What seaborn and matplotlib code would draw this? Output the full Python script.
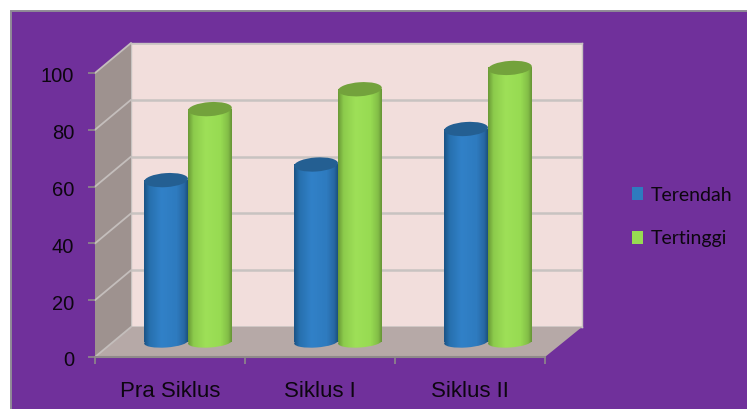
import matplotlib
matplotlib.use('Agg')
import matplotlib.pyplot as plt
import numpy as np
import pandas as pd
import seaborn as sns
from matplotlib.colors import LinearSegmentedColormap
from matplotlib.lines import Line2D
from matplotlib.patches import Ellipse, Polygon, Rectangle
from matplotlib.transforms import IdentityTransform, ScaledTranslation

categories = ['Pra Siklus', 'Siklus I', 'Siklus II']
terendah = [57, 62.5, 75]
tertinggi = [82, 89, 96.5]
y_ticks = [0, 20, 40, 60, 80, 100]

W, H = 747, 409
DEPTH_X, DEPTH_Y = 36, 30

sns.set_theme(style='white')
plt.rcParams['font.family'] = ['Liberation Sans', 'DejaVu Sans']


def box(left, top, right, bottom):
    # axes rectangle from pixel edges, top left origin
    return [left / W, 1 - bottom / H, (right - left) / W, (bottom - top) / H]


def pts(*xy):
    return [(x, H - y) for x, y in xy]


df = pd.DataFrame({
    'siklus': categories * 2,
    'nilai': terendah + tertinggi,
    'seri': ['Terendah'] * 3 + ['Tertinggi'] * 3,
})

fig = plt.figure(figsize=(W / 100, H / 100), dpi=100, facecolor='white')

# purple chart area with thin grey frame
fig.add_artist(Rectangle((11, -3), W, H - 11 + 3, transform=IdentityTransform(),
                         facecolor='#70309B', edgecolor='#8f8a96', lw=1.4, zorder=0))

L, R, T, B = 95, 545, 73, 357
ax_back = fig.add_axes(box(L + DEPTH_X, T - DEPTH_Y, R + DEPTH_X + 1, B - DEPTH_Y), zorder=1)
ax = fig.add_axes(box(L, T, R, B), zorder=2)
ax_bars = fig.add_axes(box(L + DEPTH_X / 2, T - DEPTH_Y / 2, R + DEPTH_X / 2, B - DEPTH_Y / 2), zorder=3)

# back wall
ax_back.set_facecolor('#F2DEDC')
ax_back.set_xlim(0, 1)
ax_back.set_ylim(0, 100)
ax_back.set_xticks([])
ax_back.set_yticks(y_ticks)
ax_back.tick_params(left=False, labelleft=False)
ax_back.grid(axis='y', color='#C8C3C1', lw=1.8)
for s in ax_back.spines.values():
    s.set_color('#C8C3C1')
    s.set_linewidth(1.0)

# side wall and floor
fig.add_artist(Polygon(pts((L, T), (L + DEPTH_X, T - DEPTH_Y), (L + DEPTH_X, B - DEPTH_Y), (L, B)),
                       transform=IdentityTransform(), facecolor='#9E928F', edgecolor='none', zorder=1.5))
fig.add_artist(Polygon(pts((L, B), (R, B), (R + DEPTH_X + 1, B - DEPTH_Y), (L + DEPTH_X, B - DEPTH_Y)),
                       transform=IdentityTransform(), facecolor='#B6A9A7', edgecolor='none', zorder=1.5))

# front axes, only ticks and labels
ax.patch.set_alpha(0)
ax.set_xlim(-0.5, 2.5)
ax.set_ylim(0, 100)
ax.set_xticks(range(3))
ax.set_xticklabels(categories)
ax.set_xticks([-0.5, 0.5, 1.5, 2.5], minor=True)
ax.set_yticks(y_ticks)
ax.tick_params(axis='x', which='major', length=0, pad=17, labelsize=16, labelcolor='#0d0610')
ax.tick_params(axis='x', which='minor', length=5, width=1.2, color='#8f8a8a', bottom=True)
ax.tick_params(axis='y', length=5, width=1.2, color='#8f8a8a', left=True, pad=10,
               labelsize=14.5, labelcolor='#0d0610')
for s in ['top', 'right', 'left']:
    ax.spines[s].set_visible(False)
ax.spines['bottom'].set_color('#8f8a8a')
ax.spines['bottom'].set_linewidth(1.5)

# y labels sit a little under their ticks
for lab in ax.get_yticklabels():
    lab.set_transform(lab.get_transform() + ScaledTranslation(0, -2 / 100, fig.dpi_scale_trans))

# grid lines running over the side wall
for t in y_ticks:
    px_y = ax.transData.transform((0, t))[1]
    fig.add_artist(Line2D([L, L + DEPTH_X], [px_y, px_y + DEPTH_Y], transform=IdentityTransform(),
                          color='#C4BEBC', lw=1.3, zorder=1.6))

# bars
sns.barplot(data=df, x='siklus', y='nilai', hue='seri', order=categories,
            palette=['#2E7BBF', '#97DB52'], width=0.585, gap=0, saturation=1, ax=ax_bars)
handles, labels = ax_bars.get_legend_handles_labels()
ax_bars.get_legend().remove()
ax_bars.patch.set_alpha(0)
ax_bars.set_xlim(-0.5, 2.5)
ax_bars.set_ylim(0, 100)
ax_bars.axis('off')

bars = [p for p in ax_bars.patches if p.get_height() > 0]

shades = [
    (LinearSegmentedColormap.from_list('b', [(0, '#1B5386'), (0.12, '#2770AE'), (0.4, '#3181C8'),
                                             (0.75, '#2E7BBF'), (0.92, '#2768A4'), (1, '#1C527F')]), '#245F92'),
    (LinearSegmentedColormap.from_list('g', [(0, '#6B9A37'), (0.12, '#8CCB4C'), (0.4, '#9EE058'),
                                             (0.75, '#97DB52'), (0.92, '#83BE47'), (1, '#689636')]), '#73A23C'),
]
ramp = np.linspace(0, 1, 64).reshape(1, -1)
for i, bar in enumerate(bars):
    cmap, top_col = shades[i // 3]
    x0, w, h = bar.get_x(), bar.get_width(), bar.get_height()
    z = 3 + i % 3 * 4 + i // 3 * 1.5
    bar.set_visible(False)
    ax_bars.imshow(ramp, extent=(x0, x0 + w, 0, h), cmap=cmap, aspect='auto', zorder=z)
    # rounded foot of the cylinder
    (px0, py0), (px1, py1) = ax_bars.transData.transform([(x0, 0), (x0 + w, h)])
    foot = Ellipse(((px0 + px1) / 2, py0), px1 - px0, 11, angle=4, transform=IdentityTransform())
    img = ax_bars.imshow(ramp, extent=(x0, x0 + w, -3, 3), cmap=cmap, aspect='auto', zorder=z)
    img.set_clip_box(fig.bbox)
    img.set_clip_path(foot)
    # darker lid
    ax_bars.add_artist(Ellipse(((px0 + px1) / 2, py1), px1 - px0, 14, angle=4, transform=IdentityTransform(),
                               facecolor=top_col, edgecolor='none', zorder=z + 0.5, clip_on=False))

ax_bars.set_xlim(-0.5, 2.5)
ax_bars.set_ylim(0, 100)

leg = fig.legend(handles, labels, loc='upper left', bbox_to_anchor=(618 / W, 1 - 173 / H), frameon=False,
                 prop={'family': ['Lato', 'DejaVu Sans'], 'size': 14}, labelcolor='#0d0610',
                 handlelength=0.57, handleheight=0.67, handletextpad=0.4, labelspacing=1.36, borderpad=0.2)
for h in leg.legend_handles:
    h.set_edgecolor('none')

fig.savefig('out.png', dpi=100, facecolor=fig.get_facecolor())
